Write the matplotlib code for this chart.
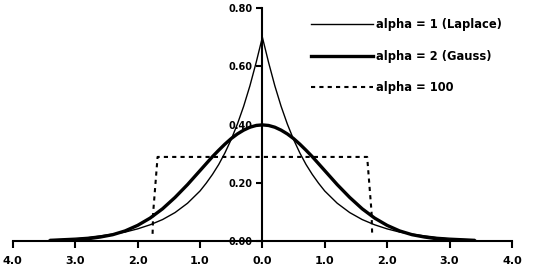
import matplotlib.pyplot as plt
import numpy as np

# values
x_pts = [-3.4, -3.2, -3.0, -2.8, -2.6, -2.4, -2.2, -2.0, -1.8, -1.6, -1.4, -1.2, -1.0,
         -0.9, -0.8, -0.7, -0.6, -0.5, -0.4, -0.3, -0.2, -0.1, 0.0,
         0.1, 0.2, 0.3, 0.4, 0.5, 0.6, 0.7, 0.8, 0.9,
         1.0, 1.2, 1.4, 1.6, 1.8, 2.0, 2.2, 2.4, 2.6, 2.8, 3.0, 3.2, 3.4]
laplace = [0.006, 0.008, 0.010, 0.013, 0.018, 0.024, 0.031, 0.042, 0.056, 0.074, 0.098, 0.130, 0.172,
           0.199, 0.229, 0.263, 0.303, 0.349, 0.402, 0.463, 0.533, 0.613, 0.700,
           0.613, 0.533, 0.463, 0.402, 0.349, 0.303, 0.263, 0.229, 0.199,
           0.172, 0.130, 0.098, 0.074, 0.056, 0.042, 0.031, 0.024, 0.018, 0.013, 0.010, 0.008, 0.006]
gauss = [0.001, 0.002, 0.004, 0.008, 0.014, 0.022, 0.035, 0.054, 0.079, 0.111, 0.150, 0.194, 0.242,
         0.266, 0.290, 0.312, 0.333, 0.352, 0.368, 0.381, 0.391, 0.397, 0.399,
         0.397, 0.391, 0.381, 0.368, 0.352, 0.333, 0.312, 0.290, 0.266,
         0.242, 0.194, 0.150, 0.111, 0.079, 0.054, 0.035, 0.022, 0.014, 0.008, 0.004, 0.002, 0.001]
x_unif = [-1.76, -1.75, -1.68, 1.68, 1.75, 1.76]
unif = [0.025, 0.10, 0.289, 0.289, 0.10, 0.025]

xticks = [-4, -3, -2, -1, 0, 1, 2, 3, 4]
xtick_labels = ['4.0', '3.0', '2.0', '1.0', '0.0', '1.0', '2.0', '3.0', '4.0']
yticks = [0.0, 0.2, 0.4, 0.6, 0.8]
ytick_labels = ['0.00', '0.20', '0.40', '0.60', '0.80']

fig = plt.figure(figsize=(5.36, 2.7), dpi=100)
ax = fig.add_axes([0.024, 0.107, 0.931, 0.863])

ax.plot(x_pts, laplace, color='black', linewidth=1.0, label='alpha = 1 (Laplace)')
ax.plot(x_pts, gauss, color='black', linewidth=2.4, label='alpha = 2 (Gauss)')
ax.plot(x_unif, unif, color='black', linewidth=1.5, linestyle=(0, (2, 2)), label='alpha = 100')

ax.set_xlim(-4, 4)
ax.set_ylim(0, 0.8)
ax.spines['left'].set_position(('data', 0))
ax.spines['top'].set_visible(False)
ax.spines['right'].set_visible(False)
ax.spines['left'].set_linewidth(1.5)
ax.spines['bottom'].set_linewidth(1.5)

ax.set_xticks(xticks)
ax.set_xticklabels(xtick_labels, fontsize=8, fontweight='bold')
ax.set_yticks(yticks)
ax.set_yticklabels(ytick_labels, fontsize=7, fontweight='bold')
ax.tick_params(axis='x', direction='out', length=5, width=1.5, pad=6)
ax.tick_params(axis='y', direction='out', length=4, width=1.5, pad=3)

leg = ax.legend(loc='upper right', bbox_to_anchor=(1.0, 1.0), frameon=False,
                prop={'size': 8.3, 'weight': 'bold'},
                handlelength=5.4, handletextpad=0.2, labelspacing=1.6)

fig.savefig('out.png', dpi=100)
